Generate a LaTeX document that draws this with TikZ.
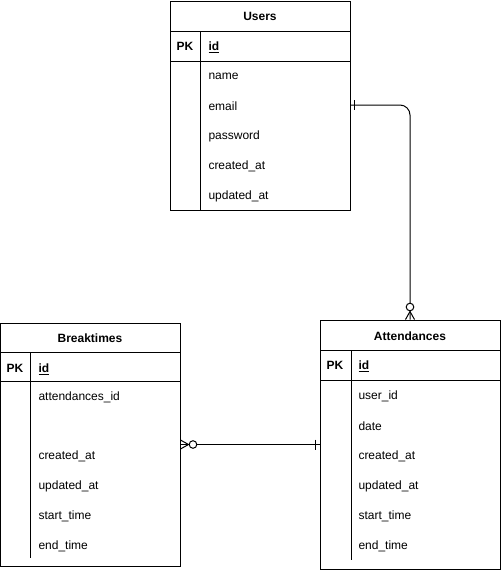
\documentclass[tikz,border=0pt]{standalone}
\usepackage{fontspec}
\setmainfont{Liberation Sans}
\usetikzlibrary{calc}
\begin{document}
\begin{tikzpicture}[x=1pt,y=-1pt,line width=1pt,
  tbl/.style={draw,rectangle,inner sep=0pt,minimum width=180pt},
  fld/.style={anchor=west,inner sep=0pt,yshift=-1pt,font=\fontsize{12}{14}\selectfont},
  ttl/.style={inner sep=0pt,font=\fontsize{12}{14}\selectfont\bfseries},
  pkey/.style={inner sep=0pt,font=\fontsize{12}{14}\selectfont\bfseries},
  conn/.style={draw,line width=1pt},
  crow/.style={line width=1pt},
  ring/.style={draw,fill=white,line width=1pt}]
\useasboundingbox (0,0) rectangle (501,571);

% ---------- Users ----------
\node[tbl,minimum height=209pt] (users) at (260,105.5) {};
\draw (170,31) -- (350,31);
\draw (170,61) -- (350,61);
\draw (200,31) -- (200,210);
\node[ttl] (usersT) at (260,16) {Users};
\node[pkey] (usersPK) at (185,46) {PK};
\node[fld,font=\fontsize{12}{14}\selectfont\bfseries] (usersId) at (208,46) {\underline{id}};
\node[fld] (uName) at (208,75) {name};
\node[fld] (uEmail) at (208,105) {email};
\node[fld] (uPass) at (208,135) {password};
\node[fld] (uCre) at (208,165) {created\_at};
\node[fld] (uUpd) at (208,195) {updated\_at};

% ---------- Breaktimes ----------
\node[tbl,minimum height=243pt] (bt) at (90,444.5) {};
\draw (0,352) -- (180,352);
\draw (0,381) -- (180,381);
\draw (30,352) -- (30,558);
\node[ttl] (btT) at (90,338) {Breaktimes};
\node[pkey] (btPK) at (15,368) {PK};
\node[fld,font=\fontsize{12}{14}\selectfont\bfseries] (btId) at (38,368) {\underline{id}};
\node[fld] (bAtt) at (38,396) {attendances\_id};
\node[fld] (bCre) at (38,455) {created\_at};
\node[fld] (bUpd) at (38,485) {updated\_at};
\node[fld] (bSt) at (38,515) {start\_time};
\node[fld] (bEn) at (38,545) {end\_time};

% ---------- Attendances ----------
\node[tbl,minimum height=249pt] (att) at (410,444.5) {};
\draw (320,350) -- (500,350);
\draw (320,380) -- (500,380);
\draw (351,350) -- (351,560);
\node[ttl] (attT) at (410,336) {Attendances};
\node[pkey] (attPK) at (335,365) {PK};
\node[fld,font=\fontsize{12}{14}\selectfont\bfseries] (attId) at (358,365) {\underline{id}};
\node[fld] (aUid) at (358,395) {user\_id};
\node[fld] (aDate) at (358,425) {date};
\node[fld] (aCre) at (358,455) {created\_at};
\node[fld] (aUpd) at (358,485) {updated\_at};
\node[fld] (aSt) at (358,515) {start\_time};
\node[fld] (aEn) at (358,545) {end\_time};

% ---------- Connectors ----------
\coordinate (c1s) at (users.east |- 0,105);
\draw[conn,rounded corners=10pt] (c1s) -- (att.north |- c1s) -- (att.north);
% one bar at Users side
\draw[crow] ($(c1s)+(4,-5)$) -- ($(c1s)+(4,5)$);
% zero-or-many at Attendances top
\draw[crow] ($(att.north)+(0,-8)$) -- ($(att.north)+(-4.5,0)$);
\draw[crow] ($(att.north)+(0,-8)$) -- ($(att.north)+(4.5,0)$);
\draw[ring] ($(att.north)+(0,-12.5)$) circle (3.8);

\coordinate (c2s) at (bt.east |- att.west);
\draw[conn] (c2s) -- (att.west);
% zero-or-many at Breaktimes side
\draw[crow] ($(c2s)+(8,0)$) -- ($(c2s)+(0,-4.5)$);
\draw[crow] ($(c2s)+(8,0)$) -- ($(c2s)+(0,4.5)$);
\draw[ring] ($(c2s)+(12.5,0)$) circle (3.8);
% one bar at Attendances side
\draw[crow] ($(att.west)+(-4,-5)$) -- ($(att.west)+(-4,5)$);
\end{tikzpicture}
\end{document}
